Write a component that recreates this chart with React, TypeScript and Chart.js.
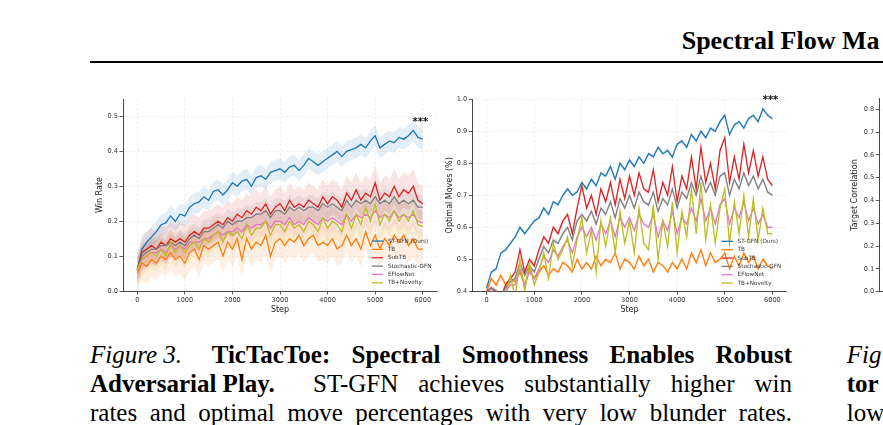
import { useEffect, useRef } from "react";
import { Chart, registerables } from "chart.js";

Chart.register(...registerables);

// ---- data ----
const steps = [
  0, 100, 200, 300, 400, 500, 600, 700, 800, 900,
  1000, 1100, 1200, 1300, 1400, 1500, 1600, 1700, 1800, 1900,
  2000, 2100, 2200, 2300, 2400, 2500, 2600, 2700, 2800, 2900,
  3000, 3100, 3200, 3300, 3400, 3500, 3600, 3700, 3800, 3900,
  4000, 4100, 4200, 4300, 4400, 4500, 4600, 4700, 4800, 4900,
  5000, 5100, 5200, 5300, 5400, 5500, 5600, 5700, 5800, 5900,
  6000,
];

const seriesLabels = ["ST-GFN (Ours)", "TB", "SubTB", "Stochastic-GFN", "EFlowNet", "TB+Novelty"];
const seriesColors = ["#1f77b4", "#ff7f0e", "#d62728", "#7f7f7f", "#e377c2", "#bcbd22"];

// Win rate panel
const winStGfn = [
  0.06, 0.12, 0.14, 0.155, 0.17, 0.19, 0.195, 0.215, 0.2, 0.22,
  0.215, 0.24, 0.25, 0.255, 0.27, 0.26, 0.285, 0.29, 0.275, 0.29,
  0.31, 0.3, 0.315, 0.32, 0.3, 0.325, 0.33, 0.32, 0.34, 0.345,
  0.35, 0.34, 0.355, 0.36, 0.345, 0.36, 0.38, 0.37, 0.36, 0.37,
  0.38, 0.39, 0.4, 0.385, 0.4, 0.405, 0.41, 0.42, 0.41, 0.43,
  0.445, 0.41, 0.42, 0.43, 0.425, 0.44, 0.435, 0.445, 0.46, 0.44,
  0.435,
];
const winTb = [
  0.05, 0.08, 0.07, 0.09, 0.08, 0.1, 0.09, 0.11, 0.09, 0.1,
  0.08, 0.11, 0.12, 0.09, 0.13, 0.12, 0.13, 0.14, 0.1, 0.14,
  0.12, 0.15, 0.09, 0.15, 0.12, 0.14, 0.13, 0.16, 0.1, 0.14,
  0.15, 0.13, 0.15, 0.14, 0.16, 0.13, 0.15, 0.16, 0.13, 0.14,
  0.13, 0.15, 0.12, 0.13, 0.16, 0.13, 0.15, 0.12, 0.17, 0.13,
  0.16, 0.12, 0.15, 0.13, 0.16, 0.14, 0.16, 0.13, 0.15, 0.12,
  0.12,
];
const winSubTb = [
  0.06, 0.11, 0.12, 0.13, 0.12, 0.14, 0.13, 0.15, 0.14, 0.15,
  0.14, 0.16, 0.17, 0.16, 0.18, 0.18, 0.19, 0.2, 0.19, 0.21,
  0.2, 0.22, 0.21, 0.23, 0.22, 0.24, 0.23, 0.25, 0.22, 0.24,
  0.25, 0.23, 0.26, 0.24, 0.25, 0.24, 0.26, 0.25, 0.24, 0.27,
  0.25, 0.27, 0.26, 0.24, 0.28, 0.26, 0.29, 0.26, 0.28, 0.27,
  0.31, 0.26, 0.28, 0.27, 0.3, 0.27, 0.29, 0.28, 0.3, 0.26,
  0.25,
];
const winStoch = [
  0.06, 0.1, 0.11, 0.12, 0.12, 0.13, 0.13, 0.14, 0.13, 0.14,
  0.13, 0.15, 0.16, 0.15, 0.17, 0.17, 0.18, 0.19, 0.18, 0.2,
  0.19, 0.2, 0.2, 0.21, 0.21, 0.22, 0.22, 0.23, 0.21, 0.23,
  0.23, 0.22, 0.24, 0.23, 0.24, 0.23, 0.24, 0.24, 0.23, 0.25,
  0.24, 0.25, 0.24, 0.23, 0.26, 0.24, 0.26, 0.25, 0.26, 0.25,
  0.27, 0.25, 0.26, 0.25, 0.27, 0.25, 0.26, 0.25, 0.26, 0.24,
  0.24,
];
const winEflow = [
  0.06, 0.09, 0.1, 0.11, 0.11, 0.12, 0.11, 0.13, 0.12, 0.13,
  0.12, 0.14, 0.14, 0.14, 0.15, 0.15, 0.16, 0.17, 0.16, 0.17,
  0.17, 0.18, 0.17, 0.19, 0.18, 0.19, 0.19, 0.2, 0.18, 0.2,
  0.2, 0.19, 0.21, 0.19, 0.2, 0.19, 0.21, 0.2, 0.19, 0.21,
  0.2, 0.21, 0.2, 0.19, 0.22, 0.2, 0.22, 0.21, 0.22, 0.21,
  0.23, 0.21, 0.22, 0.21, 0.23, 0.21, 0.22, 0.21, 0.22, 0.2,
  0.195,
];
const winNovelty = [
  0.06, 0.09, 0.1, 0.11, 0.1, 0.12, 0.1, 0.14, 0.11, 0.13,
  0.11, 0.13, 0.14, 0.12, 0.15, 0.14, 0.16, 0.17, 0.14, 0.17,
  0.16, 0.17, 0.15, 0.19, 0.16, 0.18, 0.18, 0.2, 0.16, 0.19,
  0.19, 0.17, 0.2, 0.18, 0.19, 0.17, 0.2, 0.19, 0.17, 0.21,
  0.18, 0.2, 0.19, 0.17, 0.22, 0.18, 0.22, 0.19, 0.24, 0.2,
  0.25, 0.19, 0.22, 0.2, 0.23, 0.2, 0.22, 0.2, 0.23, 0.19,
  0.185,
];
const winSpread = [0.03, 0.05, 0.05, 0.035, 0.035, 0.045];

// Optimal moves panel
const optStGfn = [
  0.41, 0.46, 0.47, 0.52, 0.53, 0.55, 0.57, 0.6, 0.58, 0.6,
  0.62, 0.63, 0.66, 0.64, 0.68, 0.67, 0.7, 0.72, 0.7, 0.71,
  0.74, 0.72, 0.75, 0.73, 0.77, 0.76, 0.79, 0.75, 0.8, 0.78,
  0.81, 0.79, 0.82, 0.8, 0.83, 0.82, 0.85, 0.83, 0.84, 0.82,
  0.86, 0.87, 0.85, 0.89, 0.87, 0.9, 0.88, 0.91, 0.9, 0.93,
  0.95, 0.89, 0.92, 0.93, 0.91, 0.94, 0.95, 0.93, 0.97, 0.95,
  0.94,
];
const optTb = [
  0.4, 0.44, 0.42, 0.45, 0.42, 0.44, 0.43, 0.46, 0.42, 0.47,
  0.44, 0.46, 0.48, 0.45, 0.47, 0.46, 0.49, 0.48, 0.46, 0.5,
  0.47, 0.49, 0.47, 0.51, 0.48, 0.5, 0.49, 0.52, 0.47, 0.5,
  0.49, 0.47, 0.51, 0.48, 0.5, 0.46, 0.49, 0.48, 0.46, 0.49,
  0.47, 0.5, 0.47, 0.52, 0.49, 0.53, 0.48, 0.52, 0.49, 0.5,
  0.52, 0.47, 0.51, 0.48, 0.52, 0.49, 0.51, 0.47, 0.5, 0.48,
  0.47,
];
const optSubTb = [
  0.4, 0.41, 0.4, 0.38, 0.42, 0.44, 0.46, 0.53, 0.46, 0.5,
  0.48, 0.53, 0.57, 0.55, 0.6, 0.58, 0.62, 0.64, 0.58, 0.66,
  0.73, 0.66, 0.7, 0.64, 0.72, 0.68, 0.74, 0.67, 0.75, 0.69,
  0.76, 0.7, 0.77, 0.72, 0.71, 0.78, 0.68, 0.74, 0.7, 0.79,
  0.68, 0.76, 0.72, 0.82, 0.72, 0.85, 0.74, 0.8, 0.72, 0.84,
  0.88, 0.74, 0.82, 0.75, 0.86, 0.77, 0.84, 0.76, 0.82, 0.75,
  0.73,
];
const optStoch = [
  0.4, 0.41, 0.4, 0.39, 0.41, 0.43, 0.44, 0.49, 0.45, 0.48,
  0.46, 0.5, 0.54, 0.52, 0.56, 0.55, 0.58, 0.6, 0.56, 0.62,
  0.64, 0.62, 0.65, 0.61, 0.66, 0.64, 0.68, 0.63, 0.69, 0.66,
  0.7, 0.66, 0.71, 0.68, 0.67, 0.71, 0.65, 0.69, 0.67, 0.72,
  0.66, 0.71, 0.69, 0.74, 0.7, 0.76, 0.71, 0.74, 0.7, 0.76,
  0.77, 0.7, 0.75, 0.72, 0.77, 0.73, 0.76, 0.72, 0.75, 0.71,
  0.7,
];
const optEflow = [
  0.4, 0.4, 0.39, 0.37, 0.4, 0.42, 0.42, 0.47, 0.42, 0.46,
  0.44, 0.47, 0.51, 0.49, 0.53, 0.51, 0.54, 0.56, 0.52, 0.57,
  0.6, 0.57, 0.6, 0.56, 0.61, 0.58, 0.62, 0.57, 0.63, 0.6,
  0.63, 0.59, 0.64, 0.61, 0.6, 0.64, 0.57, 0.62, 0.59, 0.65,
  0.58, 0.63, 0.61, 0.66, 0.62, 0.69, 0.62, 0.66, 0.61, 0.67,
  0.69, 0.61, 0.66, 0.63, 0.68, 0.62, 0.66, 0.61, 0.64, 0.6,
  0.6,
];
const optNovelty = [
  0.4, 0.39, 0.38, 0.36, 0.38, 0.45, 0.38, 0.5, 0.4, 0.49,
  0.42, 0.46, 0.52, 0.44, 0.55, 0.5, 0.53, 0.57, 0.48, 0.56,
  0.63, 0.52, 0.59, 0.46, 0.62, 0.54, 0.63, 0.52, 0.65, 0.55,
  0.62, 0.52, 0.66, 0.55, 0.53, 0.67, 0.5, 0.62, 0.54, 0.68,
  0.52, 0.65, 0.57, 0.72, 0.58, 0.74, 0.56, 0.67, 0.55, 0.66,
  0.72, 0.55, 0.68, 0.58, 0.7, 0.57, 0.69, 0.56, 0.66, 0.58,
  0.58,
];
const optSpread = [0.007, 0.007, 0.008, 0.007, 0.007, 0.008];

// ticks
const stepTicks = [0, 1000, 2000, 3000, 4000, 5000, 6000];
const winTicks = [0, 0.1, 0.2, 0.3, 0.4, 0.5];
const optTicks = [0.4, 0.5, 0.6, 0.7, 0.8, 0.9, 1.0];
const corrTicks = [0, 0.1, 0.2, 0.3, 0.4, 0.5, 0.6, 0.7, 0.8];

const FONT = "'DejaVu Sans', sans-serif";
const SERIF = "'Liberation Serif', 'Times New Roman', serif";
const AXIS = "#333333";
const GRID = "rgba(0,0,0,0.1)";

function rgba(hex: string, a: number) {
  const n = parseInt(hex.slice(1), 16);
  return `rgba(${(n >> 16) & 255},${(n >> 8) & 255},${n & 255},${a})`;
}

// legend inside the axes + significance stars
const innerLegend = {
  id: "innerLegend",
  afterDraw(chart: any, _args: any, opts: any) {
    if (!opts || !opts.show) return;
    const { ctx, chartArea } = chart;
    ctx.save();
    ctx.font = `5.7px ${FONT}`;
    ctx.textBaseline = "middle";
    ctx.textAlign = "left";
    const x0 = chartArea.right - 65.3;
    const rowH = 8.35;
    const yLast = chartArea.bottom - 8.2;
    seriesLabels.forEach((label, i) => {
      const y = yLast - (seriesLabels.length - 1 - i) * rowH;
      ctx.strokeStyle = seriesColors[i];
      ctx.lineWidth = 1.3;
      ctx.beginPath();
      ctx.moveTo(x0, y);
      ctx.lineTo(x0 + 11.4, y);
      ctx.stroke();
      ctx.fillStyle = "#333";
      ctx.fillText(label, x0 + 16.2, y);
    });
    ctx.font = `bold 10px ${FONT}`;
    ctx.textAlign = "center";
    ctx.fillStyle = "#111";
    ctx.fillText(
      "***",
      chart.scales.x.getPixelForValue(opts.starX),
      chart.scales.y.getPixelForValue(opts.starY) + 1.5
    );
    ctx.restore();
  },
};

function buildDatasets(series: number[][], spread: number[], bandAlpha: number) {
  const ds: any[] = [];
  series.forEach((vals, i) => {
    ds.push({
      data: vals.map((v, j) => ({ x: steps[j], y: v + spread[i] })),
      borderWidth: 0,
      pointRadius: 0,
      backgroundColor: rgba(seriesColors[i], bandAlpha),
      fill: "+1",
      order: 50,
      clip: 0,
    });
    ds.push({
      data: vals.map((v, j) => ({ x: steps[j], y: v - spread[i] })),
      borderWidth: 0,
      pointRadius: 0,
      fill: false,
      order: 50,
      clip: 0,
    });
  });
  series.forEach((vals, i) => {
    ds.push({
      label: seriesLabels[i],
      data: vals.map((v, j) => ({ x: steps[j], y: v })),
      borderColor: seriesColors[i],
      borderWidth: 1.3,
      pointRadius: 0,
      fill: false,
      tension: 0,
      order: 10 - i,
      clip: 0,
    });
  });
  return ds;
}

type PanelProps = {
  left: number;
  top: number;
  width: number;
  height: number;
  padding: { left: number; top: number; right: number; bottom: number };
  yWidth: number;
  xHeight: number;
  yMin: number;
  yMax: number;
  yTicks: number[];
  yLabel: string;
  datasets: any[];
  legend: any;
};

function Panel(p: PanelProps) {
  const ref = useRef<HTMLCanvasElement>(null);

  useEffect(() => {
    if (!ref.current) return;
    const chart = new Chart(ref.current, {
      type: "line",
      data: { datasets: p.datasets },
      options: {
        animation: false,
        responsive: false,
        events: [],
        layout: { padding: p.padding },
        plugins: {
          legend: { display: false },
          tooltip: { enabled: false },
          innerLegend: p.legend,
        } as any,
        scales: {
          x: {
            type: "linear",
            min: -300,
            max: 6300,
            afterBuildTicks: (s: any) => {
              s.ticks = stepTicks.map((v) => ({ value: v }));
            },
            afterFit: (s: any) => {
              s.height = p.xHeight;
            },
            grid: {
              color: GRID,
              lineWidth: 0.6,
              tickColor: AXIS,
              tickLength: 3.5,
              tickWidth: 0.8,
              tickBorderDash: [],
            },
            border: { color: AXIS, width: 0.9, dash: [2.5, 2] },
            ticks: {
              autoSkip: false,
              maxRotation: 0,
              padding: 2,
              color: "#333",
              font: { family: FONT, size: 6.6 },
              callback: (v: any) => String(v),
            },
            title: {
              display: true,
              text: "Step",
              color: "#222",
              padding: 0,
              font: { family: FONT, size: 8 },
            },
          },
          y: {
            type: "linear",
            min: p.yMin,
            max: p.yMax,
            afterBuildTicks: (s: any) => {
              s.ticks = p.yTicks.map((v) => ({ value: v }));
            },
            afterFit: (s: any) => {
              s.width = p.yWidth;
            },
            grid: {
              color: GRID,
              lineWidth: 0.6,
              tickColor: AXIS,
              tickLength: 3.5,
              tickWidth: 0.8,
              tickBorderDash: [],
            },
            border: { color: AXIS, width: 0.9, dash: [2.5, 2] },
            ticks: {
              autoSkip: false,
              padding: 1.5,
              color: "#333",
              font: { family: FONT, size: 6.6 },
              callback: (v: any) => Number(v).toFixed(1),
            },
            title: {
              display: true,
              text: p.yLabel,
              color: "#222",
              padding: 0,
              font: { family: FONT, size: 8 },
            },
          },
        },
      } as any,
      plugins: [innerLegend],
    });
    return () => chart.destroy();
  }, []);

  return (
    <canvas
      ref={ref}
      width={p.width}
      height={p.height}
      style={{ position: "absolute", left: p.left, top: p.top, width: p.width, height: p.height }}
    />
  );
}

const lineStyle: any = {
  position: "absolute",
  fontFamily: SERIF,
  fontSize: 25,
  lineHeight: "29px",
  whiteSpace: "nowrap",
  color: "#000",
};

const justified: any = {
  ...lineStyle,
  left: 90,
  width: 702,
  textAlign: "justify",
  textAlignLast: "justify",
};

export default function App() {
  return (
    <div
      style={{
        position: "fixed",
        left: 0,
        top: 0,
        width: 883,
        height: 425,
        overflow: "hidden",
        background: "#fff",
      }}
    >
      <div style={{ ...lineStyle, fontSize: 26, left: 681.7, top: 25.7, fontWeight: "bold" }}>
        Spectral Flow Ma
      </div>
      <div style={{ position: "absolute", left: 90, top: 60.8, width: 800, height: 2.5, background: "#000" }} />

      <Panel
        left={80}
        top={90}
        width={370}
        height={235}
        padding={{ left: 15.5, top: 9, right: 13, bottom: 10.5 }}
        yWidth={27.5}
        xHeight={23.5}
        yMin={0}
        yMax={0.55}
        yTicks={winTicks}
        yLabel="Win Rate"
        datasets={buildDatasets([winStGfn, winTb, winSubTb, winStoch, winEflow, winNovelty], winSpread, 0.12)}
        legend={{ show: true, starX: 5950, starY: 0.488 }}
      />
      <Panel
        left={430}
        top={90}
        width={370}
        height={235}
        padding={{ left: 15.2, top: 9.3, right: 13.3, bottom: 10.2 }}
        yWidth={27.1}
        xHeight={23.5}
        yMin={0.4}
        yMax={1.0}
        yTicks={optTicks}
        yLabel="Optimal Moves (%)"
        datasets={buildDatasets([optStGfn, optTb, optSubTb, optStoch, optEflow, optNovelty], optSpread, 0.15)}
        legend={{ show: true, starX: 5960, starY: 1.0 }}
      />
      <Panel
        left={830}
        top={90}
        width={260}
        height={235}
        padding={{ left: 20.2, top: 8.3, right: 10, bottom: 9.8 }}
        yWidth={29.1}
        xHeight={23.5}
        yMin={0}
        yMax={0.848}
        yTicks={corrTicks}
        yLabel="Target Correlation"
        datasets={[]}
        legend={{ show: false }}
      />

      <div style={{ ...lineStyle, left: 90, top: 340.1 }}>
        <i>Figure 3.</i>
      </div>
      <div style={{ ...justified, left: 211.7, width: 580.3, top: 340.1 }}>
        <b>TicTacToe: Spectral Smoothness Enables Robust</b>
      </div>
      <div style={{ ...lineStyle, left: 90, top: 369.1 }}>
        <b>Adversarial Play.</b>
      </div>
      <div style={{ ...justified, left: 313, width: 479, top: 369.1 }}>
        ST-GFN achieves substantially higher win
      </div>
      <div style={{ ...justified, top: 398.1 }}>
        rates and optimal move percentages with very low blunder rates.
      </div>

      <div style={{ ...lineStyle, left: 846.7, top: 340.1 }}>
        <i>Fig</i>
      </div>
      <div style={{ ...lineStyle, left: 846.7, top: 369.1 }}>
        <b>tor</b>
      </div>
      <div style={{ ...lineStyle, left: 846.7, top: 398.1 }}>low</div>
    </div>
  );
}
